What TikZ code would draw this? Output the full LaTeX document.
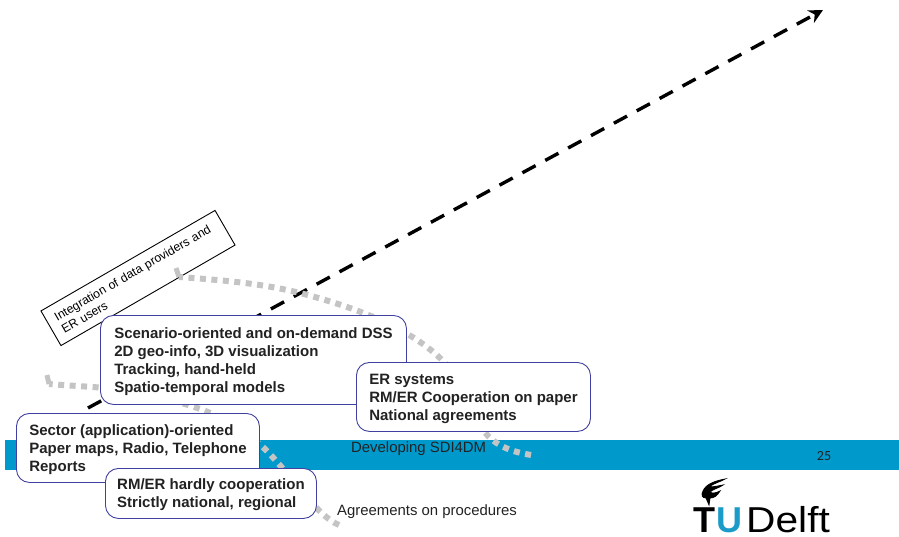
\documentclass[tikz,border=0pt]{standalone}
\usepackage{fontspec}
\setmainfont{Liberation Sans}
\newfontfamily\pagefont{Carlito}
\usepackage{tikz}
\usetikzlibrary{positioning,arrows.meta}
\definecolor{bandblue}{HTML}{0099CC}
\definecolor{logoblue}{HTML}{1C9BC8}
\definecolor{boxline}{HTML}{4040A0}
\definecolor{dotgrey}{HTML}{C4C4C4}
\definecolor{inktext}{HTML}{222222}
\tikzset{
  stagebox/.style={draw=boxline, fill=white, line width=0.9pt, rounded corners=13pt, anchor=north west,
    inner xsep=10pt, inner ysep=0pt, align=left, text=inktext, text depth=0pt,
    font=\bfseries\fontsize{15}{18}\selectfont},
  plainlabel/.style={inner sep=0pt, text=inktext, font=\fontsize{14.9}{17}\selectfont},
  logoletter/.style={inner sep=0pt, anchor=base west, font=\fontsize{36}{36}\selectfont},
  dotline/.style={draw=dotgrey, line width=6pt, dash pattern=on 6pt off 5.5pt},
  dothead/.style={draw=dotgrey, line width=5pt},
}
\begin{document}
\begin{tikzpicture}[x=1pt, y=-1pt]
  \useasboundingbox (0,0) rectangle (899,537);
  \fill[bandblue] (5,440) rectangle (899,470);

  % rotated note
  \node (note) [draw, fill=white, line width=0.9pt, rotate=30, minimum width=201pt, minimum height=40pt,
    text width=183pt, align=left, inner sep=0pt, font=\fontsize{12.2}{14.5}\selectfont] at (138,278)
    {Integration of data providers and\\ER users};

  % main arrow
  \coordinate (start) at (88,408);
  \coordinate (goal) at (823,10);
  \draw[-{Stealth[length=14pt,width=14pt]}, line width=3.4pt, dash pattern=on 15pt off 11pt] (start) to (goal);

  % dotted paths
  \coordinate (A0) at (531,455);
  \coordinate (A1) at (488,436);
  \coordinate (A2) at (440,358);
  \coordinate (A3) at (300,293);
  \coordinate (A4) at (179,277);
  \coordinate (A5) at (176,268);
  \draw[dotline] (A0) .. controls (513,452) and (499,447) .. (A1)
    .. controls (470,416) and (462,378) .. (A2)
    .. controls (405,325) and (350,306) .. (A3)
    .. controls (260,283) and (220,280) .. (A4);
  \draw[dothead] (A4) to (A5);

  \coordinate (B0) at (339,525);
  \coordinate (B1) at (277,462);
  \coordinate (B2) at (203,410);
  \coordinate (B3) at (93,387);
  \coordinate (B4) at (49,384);
  \coordinate (B5) at (47,375);
  \draw[dotline] (B0) .. controls (318,516) and (298,485) .. (B1)
    .. controls (255,436) and (230,421) .. (B2)
    .. controls (170,398) and (130,390) .. (B3)
    .. controls (78,386) and (60,385) .. (B4);
  \draw[dothead] (B4) to (B5);

  % stages
  \node (scenario) [stagebox, minimum width=306pt, minimum height=89pt] at (100,315)
    {Scenario-oriented and on-demand DSS\\2D geo-info, 3D visualization\\Tracking, hand-held\\Spatio-temporal models};
  \node (systems) [stagebox, minimum width=234pt, minimum height=69pt] at (356,362)
    {ER systems\\RM/ER Cooperation on paper\\National agreements};
  \node (sector) [stagebox, minimum width=243pt, minimum height=69pt] at (16,413)
    {Sector (application)-oriented\\Paper maps, Radio, Telephone\\Reports};
  \node (hardly) [stagebox, minimum width=211pt, minimum height=50pt] at (105,468)
    {RM/ER hardly cooperation\\Strictly national, regional};

  % slide furniture
  \node (title) [plainlabel, anchor=west] at (351,449) {Developing SDI4DM};
  \node (procedures) [plainlabel, anchor=west] at (337,512) {Agreements on procedures};
  \node (page) [inner sep=0pt, text=inktext, font=\pagefont\fontsize{14}{16}\selectfont] at (824,456) {25};

  % logo
  \node (logoT) [logoletter, font=\bfseries\fontsize{36}{36}\selectfont] at (693,532) {T};
  \node (logoU) [logoletter, text=logoblue, font=\bfseries\fontsize{36}{36}\selectfont] at (716,532) {U};
  \node (logoD) [logoletter, xscale=1.13] at (746,532) {Delft};
  \fill[draw=black, line width=0.8pt] (725,479) .. controls (715,481) and (706,484) .. (703,491)
    .. controls (701,495) and (702,498) .. (706,498) -- (709,505) -- (710,498)
    .. controls (714,498) and (717,496) .. (720,491)
    .. controls (716,493) and (712,494) .. (710,492)
    .. controls (713,489) and (719,488) .. (723,485)
    .. controls (718,486) and (713,487) .. (709,487)
    .. controls (714,483) and (720,482) .. (725,479) -- cycle;
\end{tikzpicture}
\end{document}
